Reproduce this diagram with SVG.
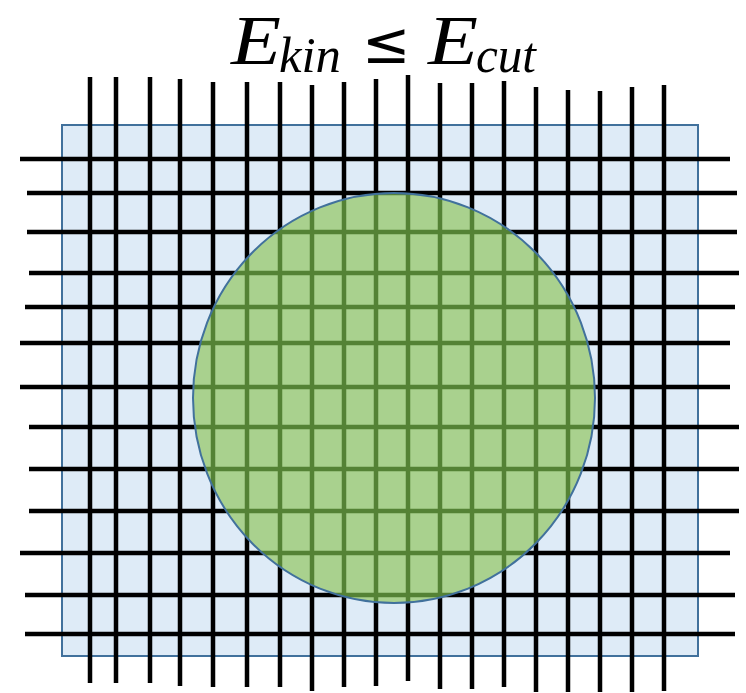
<svg xmlns="http://www.w3.org/2000/svg" xmlns:xlink="http://www.w3.org/1999/xlink" width="746" height="693" viewBox="0 0 746 693">
  <style>
    .m { font-family: "Liberation Serif", "DejaVu Serif", serif; font-style: italic; fill: #000; }
    .op { font-family: "DejaVu Sans", "Liberation Sans", sans-serif; fill: #000; }
    .grid { fill: none; stroke-width: 4.5; stroke-linecap: butt; }
  </style>
  <defs>
    <path id="gridpath" d="M90 77V683 M116 77V683 M150 77V683 M180 79V686 M213 82V687 M247 82V687 M280 82V687 M312 85V691 M344 82V687 M376 79V686 M408 75V681 M440 83V689 M472 83V689 M504 81V687 M536 87V692 M568 90V692 M600 91V692 M632 87V692 M664 85V691 M20 159H730 M27 193H737 M27 232H737 M29 273H739 M25 307H735 M20 343H730 M20 387H730 M29 427H739 M29 469H739 M29 511H739 M20 553H730 M25 595H735 M25 634H735"/>
    <clipPath id="circleClip">
      <ellipse cx="394" cy="398" rx="201" ry="205"/>
    </clipPath>
  </defs>
  <rect width="746" height="693" fill="#ffffff"/>
  <g id="title">
    <text class="m" x="231" y="64" font-size="70" textLength="50" lengthAdjust="spacingAndGlyphs">E</text>
    <text class="m" x="279" y="72" font-size="50" textLength="62" lengthAdjust="spacingAndGlyphs">kin</text>
    <text class="op" x="362" y="63" font-size="58">≤</text>
    <text class="m" x="428" y="64" font-size="70" textLength="50" lengthAdjust="spacingAndGlyphs">E</text>
    <text class="m" x="476" y="72" font-size="50" textLength="60" lengthAdjust="spacingAndGlyphs">cut</text>
  </g>
  <g id="domain">
    <rect x="62" y="125" width="636" height="531" fill="#DEEBF7" stroke="#41719C" stroke-width="2"/>
  </g>
  <g id="grid-lines">
    <use xlink:href="#gridpath" class="grid" stroke="#000000"/>
  </g>
  <g id="sphere">
    <ellipse cx="394" cy="398" rx="201" ry="205" fill="#A9D18E"/>
    <use xlink:href="#gridpath" class="grid" stroke="#548235" clip-path="url(#circleClip)"/>
    <ellipse cx="394" cy="398" rx="201" ry="205" fill="none" stroke="#41719C" stroke-width="2"/>
  </g>
</svg>
